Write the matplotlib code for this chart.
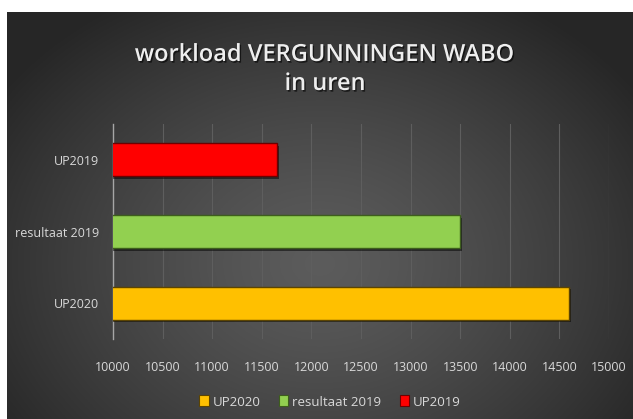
import numpy as np
import matplotlib
matplotlib.use('Agg')
import matplotlib.pyplot as plt
import matplotlib.patheffects as pe
from matplotlib.patches import Patch

categorieen = ['UP2020', 'resultaat 2019', 'UP2019']
uren = [14600, 13500, 11650]
kleuren = ['#FFC000', '#92D050', '#FF0000']
randen = ['#5c4400', '#3d5e1c', '#6e0000']
x_ticks = [10000, 10500, 11000, 11500, 12000, 12500, 13000, 13500, 14000, 14500, 15000]

plt.rcParams['font.family'] = ['Open Sans', 'DejaVu Sans']

W, H = 633, 419
fig = plt.figure(figsize=(W / 100, H / 100), dpi=100)
fig.patch.set_facecolor('white')

# achtergrond met radiaal verloop
bg = fig.add_axes([7 / W, 0, (W - 7) / W, (H - 12) / H])
bg.set_axis_off()
yy, xx = np.mgrid[0:1:300j, 0:1:400j]
r = np.sqrt(((xx - 0.5) / 0.62) ** 2 + ((yy - 0.62) / 0.75) ** 2)
r = np.clip(r, 0, 1)
grijs = 0.36 - 0.21 * r ** 1.3
img = np.dstack([grijs, grijs, grijs])
bg.imshow(img, aspect='auto', extent=[0, 1, 0, 1], origin='upper')

ax = fig.add_axes([113 / W, (H - 339) / H, 496 / W, 215 / H])
ax.patch.set_alpha(0)

y = np.arange(len(categorieen))
bars = ax.barh(y, uren, height=0.46, color=kleuren, edgecolor=randen, linewidth=1.0, zorder=3)
for b in bars:
    b.set_path_effects([pe.SimplePatchShadow(offset=(1.5, -2), shadow_rgbFace='black', alpha=0.5), pe.Normal()])

ax.set_xlim(10000, 15000)
ax.set_ylim(-0.5, len(categorieen) - 0.5)
ax.set_xticks(x_ticks)
ax.set_xticklabels([str(t) for t in x_ticks])
ax.set_yticks(y)
ax.set_yticklabels(categorieen)
ax.tick_params(axis='both', length=0, colors='#d9d9d9', labelsize=9)
ax.tick_params(axis='x', pad=16)
ax.tick_params(axis='y', pad=10)
ax.grid(axis='x', color='#5e5e5e', linewidth=0.8, zorder=0)
for s in ['top', 'right', 'bottom']:
    ax.spines[s].set_visible(False)
ax.spines['left'].set_color('#a6a6a6')
ax.spines['left'].set_linewidth(1.0)

schaduw = [pe.SimplePatchShadow(offset=(1, -1.2), shadow_rgbFace='black', alpha=0.6), pe.Normal()]
fig.text(325 / W, 1 - 55 / H, 'workload VERGUNNINGEN WABO', ha='center', va='center',
         fontsize=17, fontweight='semibold', color='#eeeeee', path_effects=schaduw)
fig.text(325 / W, 1 - 84 / H, 'in uren', ha='center', va='center',
         fontsize=17, fontweight='semibold', color='#eeeeee', path_effects=schaduw)

handles = [Patch(facecolor=k, edgecolor=r_, linewidth=0.8) for k, r_ in zip(kleuren, randen)]
leg = fig.legend(handles, categorieen, loc='center', bbox_to_anchor=(330 / W, 1 - 402 / H), ncol=3,
                 frameon=False, fontsize=9.5, labelcolor='#d9d9d9', handlelength=0.7, handleheight=0.9,
                 handletextpad=0.3, columnspacing=1.4)

fig.savefig('out.png', dpi=100, facecolor=fig.get_facecolor())
